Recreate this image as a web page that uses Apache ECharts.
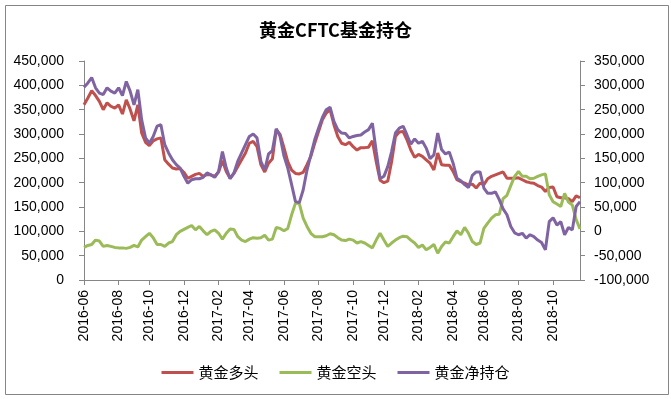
<!DOCTYPE html>
<html>
<head>
<meta charset="utf-8">
<title>黄金CFTC基金持仓</title>
<script src="https://cdn.jsdelivr.net/npm/echarts@6/dist/echarts.min.js"></script>
<style>
    html, body { margin: 0; padding: 0; background: #fff; }
    #chart { width: 671px; height: 399px; }
</style>
</head>
<body>
<div id="chart"></div>
<script>
// dates hebdomadaires (rapports CFTC du mardi)
const dates = [
    '2016-06-07','2016-06-14','2016-06-21','2016-06-28','2016-07-05','2016-07-12','2016-07-19','2016-07-26',
    '2016-08-02','2016-08-09','2016-08-16','2016-08-23','2016-08-30','2016-09-06','2016-09-13','2016-09-20',
    '2016-09-27','2016-10-04','2016-10-11','2016-10-18','2016-10-25','2016-11-01','2016-11-08','2016-11-15',
    '2016-11-22','2016-11-29','2016-12-06','2016-12-13','2016-12-20','2016-12-27','2017-01-03','2017-01-10',
    '2017-01-17','2017-01-24','2017-01-31','2017-02-07','2017-02-14','2017-02-21','2017-02-28','2017-03-07',
    '2017-03-14','2017-03-21','2017-03-28','2017-04-04','2017-04-11','2017-04-18','2017-04-25','2017-05-02',
    '2017-05-09','2017-05-16','2017-05-23','2017-05-30','2017-06-06','2017-06-13','2017-06-20','2017-06-27',
    '2017-07-04','2017-07-11','2017-07-18','2017-07-25','2017-08-01','2017-08-08','2017-08-15','2017-08-22',
    '2017-08-29','2017-09-05','2017-09-12','2017-09-19','2017-09-26','2017-10-03','2017-10-10','2017-10-17',
    '2017-10-24','2017-10-31','2017-11-07','2017-11-14','2017-11-21','2017-11-28','2017-12-05','2017-12-12',
    '2017-12-19','2017-12-26','2018-01-02','2018-01-09','2018-01-16','2018-01-23','2018-01-30','2018-02-06',
    '2018-02-13','2018-02-20','2018-02-27','2018-03-06','2018-03-13','2018-03-20','2018-03-27','2018-04-03',
    '2018-04-10','2018-04-17','2018-04-24','2018-05-01','2018-05-08','2018-05-15','2018-05-22','2018-05-29',
    '2018-06-05','2018-06-12','2018-06-19','2018-06-26','2018-07-03','2018-07-10','2018-07-17','2018-07-24',
    '2018-07-31','2018-08-07','2018-08-14','2018-08-21','2018-08-28','2018-09-04','2018-09-11','2018-09-18',
    '2018-09-25','2018-10-02','2018-10-09','2018-10-16','2018-10-23','2018-10-30','2018-11-06','2018-11-13',
    '2018-11-20','2018-11-27'
];

// 黄金多头 (axe de gauche)
const duoTou = [
    360000,374000,389000,379000,367000,350000,364000,357000,353000,360000,
    341000,370000,351000,327000,360000,302000,283000,276000,286000,290000,
    292000,247000,238000,230000,228000,229000,221000,209000,213000,217000,
    219000,213000,217000,216000,213000,222000,245000,223000,209000,219000,
    233000,247000,261000,281000,285000,274000,237000,222000,240000,249000,
    309000,299000,272000,243000,226000,219000,218000,221000,237000,254000,
    281000,305000,329000,343000,350000,319000,295000,281000,278000,283000,
    274000,267000,272000,272000,273000,286000,243000,205000,200000,203000,
    243000,295000,304000,305000,288000,267000,252000,258000,254000,247000,
    240000,226000,261000,237000,236000,236000,223000,206000,202000,199000,
    195000,197000,189000,199000,196000,208000,213000,216000,219000,222000,
    209000,209000,209000,210000,206000,202000,200000,199000,194000,191000,
    182000,190000,191000,171000,169000,169000,167000,161000,173000,169000
];

// 黄金空头 (axe de gauche)
const kongTou = [
    67000,71000,73000,82000,80000,69000,71000,69000,67000,66000,
    66000,65000,67000,71000,68000,82000,89000,96000,87000,73000,
    73000,69000,76000,79000,93000,100000,104000,108000,112000,103000,
    110000,101000,93000,100000,103000,96000,84000,96000,105000,104000,
    89000,82000,79000,84000,87000,86000,87000,92000,82000,84000,
    108000,106000,101000,106000,134000,158000,157000,127000,110000,96000,
    89000,89000,89000,91000,95000,93000,87000,82000,81000,84000,
    82000,76000,79000,76000,71000,66000,82000,96000,82000,69000,
    76000,82000,87000,90000,89000,82000,76000,67000,72000,62000,
    67000,73000,55000,69000,78000,76000,89000,101000,93000,108000,
    96000,79000,73000,76000,106000,117000,127000,134000,135000,167000,
    174000,194000,213000,223000,213000,213000,208000,209000,213000,216000,
    218000,175000,161000,156000,151000,178000,160000,154000,124000,105000
];

// 黄金净持仓 (axe de droite)
const jingChiCang = [
    296000,305000,316000,295000,284000,281000,295000,288000,284000,295000,
    279000,308000,288000,260000,291000,229000,192000,181000,195000,216000,
    219000,178000,161000,147000,137000,130000,113000,99000,106000,108000,
    108000,111000,120000,116000,111000,123000,164000,130000,108000,120000,
    144000,161000,178000,195000,200000,192000,144000,126000,159000,166000,
    211000,195000,155000,130000,96000,61000,59000,85000,126000,157000,
    188000,212000,234000,250000,255000,226000,209000,202000,201000,192000,
    195000,197000,198000,204000,209000,222000,164000,108000,113000,133000,
    164000,202000,212000,216000,198000,179000,190000,181000,185000,171000,
    149000,157000,202000,168000,159000,163000,140000,109000,104000,96000,
    90000,115000,122000,122000,89000,78000,78000,81000,65000,46000,
    34000,10000,-3000,-7000,-4000,-14000,-7000,-11000,-18000,-23000,
    -38000,20000,28000,13000,20000,-7000,8000,3000,51000,61000
];

const seriesNames = ['黄金多头', '黄金空头', '黄金净持仓'];
const couleurs = ['#C0504D', '#9BBB59', '#8064A2'];

window.onload = init;

function init() {
    dessinerGraphique();
}

// une étiquette tous les deux mois, sur le mardi proche du 7
function estTick(index, valeur) {
    let mois = parseInt(valeur.substring(5, 7), 10);
    let jour = parseInt(valeur.substring(8, 10), 10);
    return mois % 2 === 0 && jour >= 4 && jour <= 10;
}

function formatMilliers(v) {
    return v.toLocaleString('en-US');
}

function dessinerGraphique() {
    let chart = echarts.init(document.getElementById('chart'));
    let police = 'Liberation Sans, Arial, sans-serif';
    let axeCouleur = '#868686';

    let options = {
        animation: false,
        color: couleurs,
        title: {
            text: '黄金CFTC基金持仓',
            left: 'center',
            top: 16,
            textStyle: {
                fontFamily: 'Noto Sans CJK SC',
                fontSize: 18,
                fontWeight: 'bold',
                color: '#000'
            }
        },
        legend: {
            data: seriesNames,
            left: 'center',
            top: 360,
            icon: 'rect',
            itemWidth: 32,
            itemHeight: 3,
            itemGap: 21,
            textStyle: {
                fontFamily: 'Noto Sans CJK SC',
                fontSize: 15,
                color: '#000'
            }
        },
        grid: {
            left: 84,
            right: 91,
            top: 61,
            bottom: 119
        },
        xAxis: {
            type: 'category',
            data: dates,
            boundaryGap: false,
            axisLine: { lineStyle: { color: axeCouleur } },
            axisTick: { interval: estTick, length: 5, lineStyle: { color: axeCouleur } },
            axisLabel: {
                interval: estTick,
                rotate: 90,
                margin: 10,
                fontFamily: police,
                fontSize: 14,
                color: '#000',
                formatter: function (v) { return v.substring(0, 7); }
            },
            splitLine: { show: false }
        },
        yAxis: [
            {
                type: 'value',
                min: 0,
                max: 450000,
                interval: 50000,
                axisLine: { show: true, lineStyle: { color: axeCouleur } },
                axisTick: { show: true, length: 5, lineStyle: { color: axeCouleur } },
                axisLabel: { margin: 20, fontFamily: police, fontSize: 14, color: '#000', formatter: formatMilliers },
                splitLine: { show: false }
            },
            {
                type: 'value',
                min: -100000,
                max: 350000,
                interval: 50000,
                position: 'right',
                axisLine: { show: true, lineStyle: { color: axeCouleur } },
                axisTick: { show: true, length: 5, lineStyle: { color: axeCouleur } },
                axisLabel: { margin: 14, fontFamily: police, fontSize: 14, color: '#000', formatter: formatMilliers },
                splitLine: { show: false }
            }
        ],
        series: [
            {
                name: seriesNames[0],
                type: 'line',
                yAxisIndex: 0,
                data: duoTou,
                symbol: 'none',
                lineStyle: { width: 3, color: couleurs[0] }
            },
            {
                name: seriesNames[1],
                type: 'line',
                yAxisIndex: 0,
                data: kongTou,
                symbol: 'none',
                lineStyle: { width: 3, color: couleurs[1] }
            },
            {
                name: seriesNames[2],
                type: 'line',
                yAxisIndex: 1,
                data: jingChiCang,
                symbol: 'none',
                lineStyle: { width: 3, color: couleurs[2] }
            }
        ],
        graphic: [
            {
                // cadre gris autour du graphique
                type: 'rect',
                left: 3,
                top: 3,
                shape: { width: 663, height: 389 },
                style: { fill: 'none', stroke: axeCouleur, lineWidth: 1 },
                silent: true
            }
        ]
    };

    chart.setOption(options);
}
</script>
</body>
</html>
